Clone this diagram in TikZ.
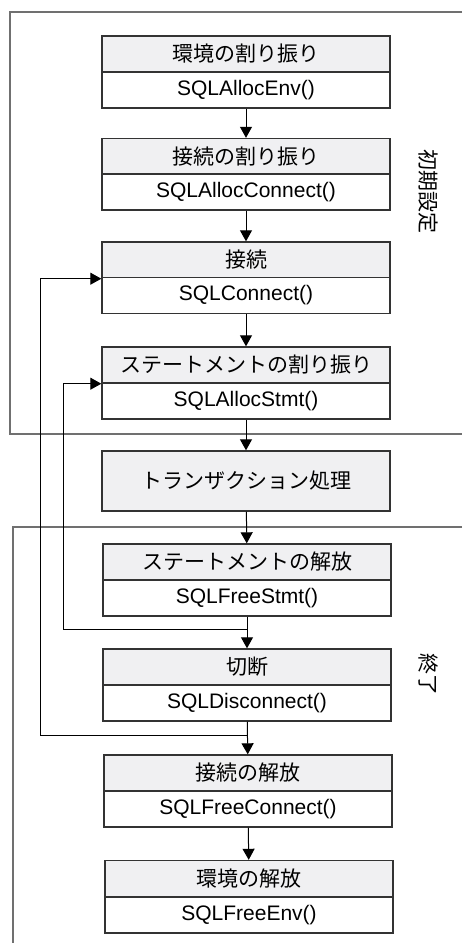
\documentclass[tikz,border=0pt]{standalone}
\usepackage{fontspec}
\setmainfont{Liberation Sans}
\newfontfamily\jp{Noto Sans CJK JP}
\usetikzlibrary{arrows.meta}
\definecolor{headgray}{HTML}{F0F0F2}
\definecolor{framegray}{HTML}{707070}
\definecolor{edgegray}{HTML}{333333}

\begin{document}
\begin{tikzpicture}[x=0.5pt,y=-0.5pt,
    every node/.style={font=\fontsize{10.5}{12}\selectfont},
    hdbox/.style={draw=edgegray,fill=headgray,line width=0.7pt,
      minimum width=144pt,minimum height=18pt,inner sep=0pt},
    fnbox/.style={hdbox,fill=white},
    tabox/.style={hdbox,minimum height=30pt},
    arr/.style={line width=0.5pt,-{Triangle[length=5.5pt,width=6pt]}},
    frm/.style={draw=framegray,line width=0.6pt}]
      \useasboundingbox (0,0) rectangle (462,943);

      % frames
      \draw[frm] (462,12) -- (10,12) -- (10,434) -- (462,434);
      \draw[frm] (462,527) -- (13,527) -- (13,943);

      \path
      (246,54) node[hdbox](h1) {\jp 環境の割り振り}
      (246,90) node[fnbox](f1) {SQLAllocEnv()}
      (246,156.5) node[hdbox](h2) {\jp 接続の割り振り}
      (246,192) node[fnbox](f2) {SQLAllocConnect()}
      (246,260) node[hdbox](h3) {\jp 接続}
      (246,295.5) node[fnbox](f3) {SQLConnect()}
      (246,365) node[hdbox](h4) {\jp ステートメントの割り振り}
      (246,401) node[fnbox](f4) {SQLAllocStmt()}
      (246,481) node[tabox](tr) {\jp トランザクション処理}
      (247,562) node[hdbox](h6) {\jp ステートメントの解放}
      (247,598) node[fnbox](f6) {SQLFreeStmt()}
      (247,667) node[hdbox](h7) {\jp 切断}
      (247,703) node[fnbox](f7) {SQLDisconnect()}
      (248,773) node[hdbox](h8) {\jp 接続の解放}
      (248,809) node[fnbox](f8) {SQLFreeConnect()}
      (249,878.5) node[hdbox](h9) {\jp 環境の解放}
      (249,915) node[fnbox](f9) {SQLFreeEnv()}
      ;
      \path
      (428,191) node[rotate=-90](init) {\jp 初期設定}
      (428,674) node[rotate=-90](term) {\jp 終了}
      ;

      \draw[arr] (f1) -- (h2);
      \draw[arr] (f2) -- (h3);
      \draw[arr] (f3) -- (h4);
      \draw[arr] (f4) -- (tr);
      \draw[arr] (tr) -- (h6);
      \draw[arr] (f6) -- (h7);
      \draw[arr] (f7) -- (h8);
      \draw[arr] (f8) -- (h9);

      \coordinate (loopA) at (247.5,735);
      \coordinate (leftA) at (40,735);
      \coordinate (loopB) at (247,629);
      \coordinate (leftB) at (63,629);

      \draw[arr] (loopA) -- (leftA) |- (h3.south west);
      \draw[arr] (loopB) -- (leftB) |- (h4.south west);
    \end{tikzpicture}
\end{document}
